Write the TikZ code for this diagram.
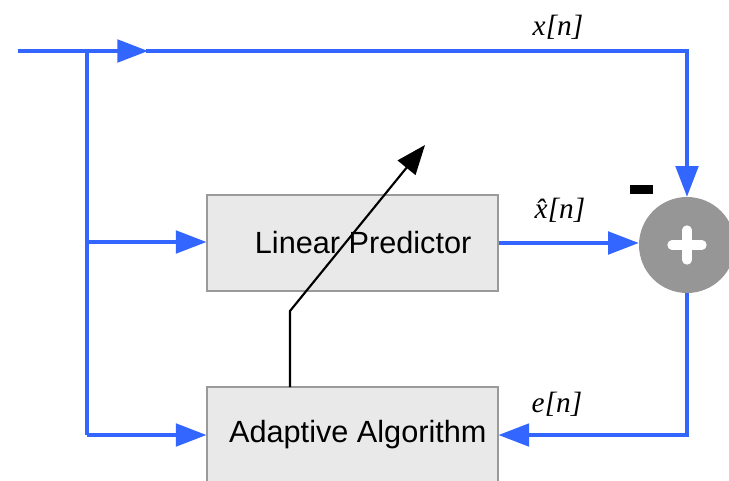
\documentclass[tikz,border=0pt]{standalone}
\usepackage{fontspec}
\setmainfont{Liberation Sans}
\newfontfamily\lblfont{Liberation Serif}
\usetikzlibrary{arrows.meta}
\definecolor{sigblue}{HTML}{3366FF}
\definecolor{boxfill}{HTML}{E9E9E9}
\definecolor{boxline}{HTML}{9A9A9A}
\definecolor{sumgray}{HTML}{969696}
\tikzset{
  bl/.style={draw=sigblue, line width=2.4pt},
  btip/.style={-{Triangle[length=23pt,width=17pt]}},
  blk/.style={draw=black, line width=1.6pt, -{Triangle[length=22pt,width=17pt]}},
  block/.style={draw=boxline, line width=0.8pt, fill=boxfill, minimum width=218.25pt, minimum height=72pt, inner sep=0pt, font=\fontsize{23pt}{27pt}\selectfont},
  sumnode/.style={circle, fill=sumgray, minimum size=72pt, inner sep=0pt},
  lbl/.style={font=\lblfont\itshape\fontsize{22pt}{26pt}\selectfont, inner sep=0pt}
}
\begin{document}
\begin{tikzpicture}[x=0.75pt,y=-0.75pt]
\useasboundingbox (0,0) rectangle (729,480);
\node[block] (lp) at (352.5,243) {\hspace*{16pt}Linear Predictor};
\node[block] (aa) at (352.5,435) {\hspace*{8pt}Adaptive Algorithm};
\node[sumnode] (sum) at (687,245) {};
\draw[white, line width=7pt, line cap=round] (sum.center) ++(-15,0) -- ++(30,0);
\draw[white, line width=7pt, line cap=round] (sum.center) ++(0,-15) -- ++(0,30);
\node[fill=black, minimum width=17pt, minimum height=6.5pt, inner sep=0pt] (minus) at (641.5,189.5) {};
\coordinate (in) at (18,51);
\coordinate (j1) at (87,51);
\coordinate (am) at (148,51);
\coordinate (c1) at (687,51);
\coordinate (j2) at (87,242);
\coordinate (j3) at (87,435);
\coordinate (k0) at (290,387);
\coordinate (k1) at (290,311);
\coordinate (k2) at (425,145);
\draw[bl, btip] (in) -- (am);
\draw[bl, line cap=rect] (am) -- (c1);
\draw[bl, btip] (c1) -- (sum.north);
\draw[bl] (j1) -- (j3);
\draw[bl, btip] (j2) -- (j2 -| lp.west);
\draw[bl, btip] (j3) -- (aa.west);
\draw[bl, btip] (lp.east) -- (lp.east -| sum.west);
\draw[bl, btip] (sum.south) |- (aa.east);
\draw[blk] (k0) -- (k1) -- (k2);
\node[lbl] (xn) at (558,27) {x[n]};
\node[lbl] (xh) at (560,210) {\^{x}[n]};
\node[lbl] (en) at (557,404) {e[n]};
\end{tikzpicture}
\end{document}
